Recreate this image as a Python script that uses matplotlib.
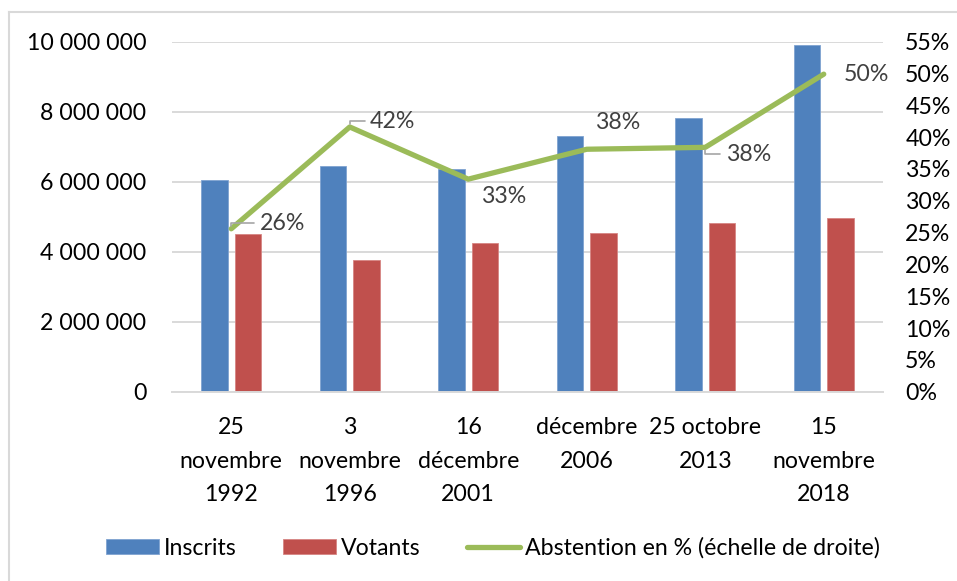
import matplotlib.pyplot as plt
import numpy as np
from matplotlib.lines import Line2D
from matplotlib.ticker import FuncFormatter, MultipleLocator

# Données
categories = ["25\nnovembre\n1992", "3\nnovembre\n1996", "16\ndécembre\n2001",
              "décembre\n2006", "25 octobre\n2013", "15\nnovembre\n2018"]
inscrits = [6050000, 6460000, 6360000, 7310000, 7830000, 9910000]
votants = [4500000, 3750000, 4250000, 4530000, 4830000, 4970000]
abstention = [0.256, 0.416, 0.334, 0.381, 0.384, 0.499]

plt.rcParams["font.family"] = ["Lato", "DejaVu Sans"]
FS = 16.7

W, H = 957, 581
fig = plt.figure(figsize=(W / 100, H / 100), dpi=100)
ax = fig.add_axes([172 / W, 1 - 391.7 / H, (883 - 172) / W, 350 / H])
ax2 = ax.twinx()

x = np.arange(len(categories))
bw = 0.225
b1 = ax.bar(x - 0.141, inscrits, bw, color="#4F81BD", edgecolor="#7FA3D1", linewidth=0.6,
            label="Inscrits", zorder=2)
b2 = ax.bar(x + 0.141, votants, bw, color="#C0504D", edgecolor="#D68583", linewidth=0.6,
            label="Votants", zorder=2)
line, = ax2.plot(x, abstention, color="#9BBB59", lw=3.8, solid_capstyle="round",
                 label="Abstention en % (échelle de droite)", zorder=3)

ax.set_xlim(-0.5, len(categories) - 0.5)
ax.set_ylim(0, 10000000)
ax.yaxis.set_major_locator(MultipleLocator(2000000))
ax.yaxis.set_major_formatter(FuncFormatter(lambda v, p: f"{int(v):,}".replace(",", " ")))
ax2.set_ylim(0, 0.55)
ax2.yaxis.set_major_locator(MultipleLocator(0.05))
ax2.yaxis.set_major_formatter(FuncFormatter(lambda v, p: f"{v * 100:.0f}%"))

ax.set_xticks(x)
ax.set_xticklabels(categories, linespacing=1.72)
ax.tick_params(axis="x", length=0, pad=18.5, labelsize=FS)
ax.tick_params(axis="y", length=0, pad=18.5, labelsize=FS)
ax2.tick_params(axis="y", length=0, pad=16, labelsize=FS)

ax.grid(axis="y", color="#D9D9D9", lw=1.4, zorder=0)
ax.set_axisbelow(True)
for a in (ax, ax2):
    for s in a.spines.values():
        s.set_visible(False)
ax.spines["bottom"].set_visible(True)
ax.spines["bottom"].set_color("#D9D9D9")
ax.spines["bottom"].set_linewidth(1.4)

# Etiquettes de données (décalages en points)
offsets = [(37, 4), (31, 4), (25.5, -12.5), (22, 19), (31, -5), (31, 0)]
leader = [True, True, False, False, True, False]
for i, v in enumerate(abstention):
    dx, dy = offsets[i]
    props = None
    if leader[i]:
        props = dict(arrowstyle="-", color="#A6A6A6", lw=1.2,
                     shrinkA=2, shrinkB=2,
                     connectionstyle="angle,angleA=0,angleB=90,rad=0")
    ax2.annotate(f"{v * 100:.0f}%", xy=(i, v), xytext=(dx, dy),
                 textcoords="offset points", ha="center", va="center",
                 fontsize=FS, color="#404040", arrowprops=props, zorder=4)

handles = [b1, b2, line]
labels = ["Inscrits", "Votants", "Abstention en % (échelle de droite)"]
fig.legend(handles, labels, loc="center",
           bbox_to_anchor=(493 / W, 1 - 548 / H), ncol=3, frameon=False,
           fontsize=FS, handlelength=2.3, handletextpad=0.2, columnspacing=2.0,
           handleheight=0.65)

# Cadre du graphique
fig.add_artist(Line2D([9 / W, 1.01], [1 - 12 / H] * 2, color="#D9D9D9", lw=1.5))
fig.add_artist(Line2D([9 / W] * 2, [1 - 12 / H, -0.01], color="#D9D9D9", lw=1.5))

fig.savefig("out.png", dpi=100)
